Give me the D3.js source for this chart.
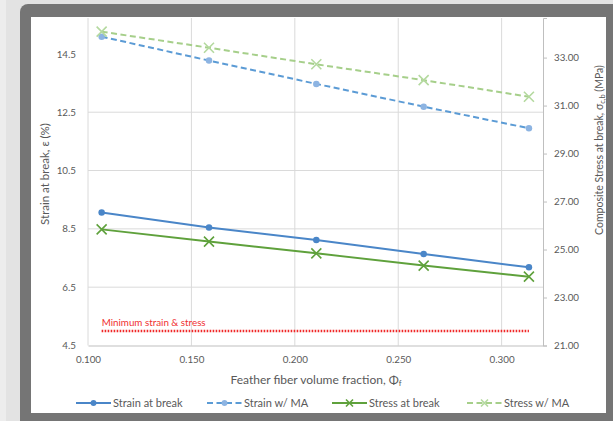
<!DOCTYPE html>
<html>
<head>
<meta charset="utf-8">
<script src="https://cdn.jsdelivr.net/npm/d3@7"></script>
<style>
  body { margin: 0; background: #e6e6e6; }
  text { font-family: Lato, "Open Sans", sans-serif; }
</style>
</head>
<body>
<div class="canvas"></div>
<script>
// values
const fiberFraction = [0.1066, 0.1585, 0.2104, 0.2623, 0.3132];
const strainBreak = [9.06, 8.55, 8.12, 7.64, 7.18];
const strainMA = [15.09, 14.27, 13.47, 12.69, 11.95];
const stressBreak = [25.84, 25.33, 24.84, 24.33, 23.87];
const stressMA = [34.08, 33.41, 32.72, 32.06, 31.37];
const minStrain = 5.0;

const xTicks = [0.1, 0.15, 0.2, 0.25, 0.3];
const leftTicks = [4.5, 6.5, 8.5, 10.5, 12.5, 14.5];
const rightTicks = [21, 23, 25, 27, 29, 31, 33];

const w = 613;
const h = 421;

const svg = d3.select(".canvas").append("svg").attr("width", w).attr("height", h)
  .style("display", "block");

// frame
svg.append("rect").attr("width", w).attr("height", h).attr("fill", "#e3e3e3");
svg.append("rect").attr("width", 6).attr("height", h).attr("fill", "#ededed");
svg.append("rect").attr("x", 20).attr("y", 4).attr("width", 640).attr("height", 460)
  .attr("rx", 8).attr("fill", "#757575");
svg.append("rect").attr("x", 31).attr("y", 17).attr("width", 575).attr("height", 396)
  .attr("fill", "#ffffff");

const x = d3.scaleLinear([0.1, 0.32], [88, 543]);
const yL = d3.scaleLinear([4.5, 15.73], [345.5, 18]);
const yR = d3.scaleLinear([21, 34.65], [345.5, 18]);

// gridlines
svg.append("g").selectAll("line").data(leftTicks.filter(d => d > 4.5 && d < 14)).join("line")
  .attr("x1", x(0.1)).attr("x2", x(0.32))
  .attr("y1", d => yL(d)).attr("y2", d => yL(d))
  .attr("stroke", "#dadada").attr("stroke-width", 1);
svg.append("g").selectAll("line").data(xTicks).join("line")
  .attr("x1", d => x(d)).attr("x2", d => x(d))
  .attr("y1", yL(4.5)).attr("y2", 18)
  .attr("stroke", "#dadada").attr("stroke-width", 1);

// bottom axis
const xAxis = svg.append("g").attr("transform", `translate(0, ${yL(4.5)})`)
  .call(d3.axisBottom(x).tickValues(xTicks).tickSize(0).tickPadding(11).tickFormat(d3.format(".3f")));
xAxis.select(".domain").attr("stroke", "#bfbfbf");

// left axis
const yAxisL = svg.append("g").attr("transform", `translate(${x(0.1)}, 0)`)
  .call(d3.axisLeft(yL).tickValues(leftTicks).tickSize(0).tickPadding(12).tickFormat(d3.format(".1f")));
yAxisL.select(".domain").remove();

// right axis
const yAxisR = svg.append("g").attr("transform", `translate(${x(0.32)}, 0)`)
  .call(d3.axisRight(yR).tickValues(rightTicks).tickSize(4).tickPadding(7).tickFormat(d3.format(".2f")));
yAxisR.select(".domain").attr("stroke", "#bfbfbf");
yAxisR.selectAll(".tick line").attr("stroke", "#bfbfbf");

svg.selectAll(".tick text").attr("fill", "#595959").style("font-size", "9.8px")
  .style("font-family", "Lato, sans-serif");

// minimum line
svg.append("line")
  .attr("x1", x(fiberFraction[0])).attr("x2", x(fiberFraction[4]))
  .attr("y1", yL(minStrain)).attr("y2", yL(minStrain))
  .attr("stroke", "#f02828").attr("stroke-width", 2.5).attr("stroke-dasharray", "1.6,1.4");
svg.append("text").attr("x", x(fiberFraction[0])).attr("y", yL(minStrain) - 5)
  .attr("fill", "#f03030").style("font-size", "9.8px").text("Minimum strain & stress");

const series = [
  { name: "Strain at break", vals: strainBreak, y: yL, color: "#4a86c8", mcolor: "#4a86c8", dash: null, mark: "circle" },
  { name: "Strain w/ MA", vals: strainMA, y: yL, color: "#5b9bd5", mcolor: "#8db4e2", dash: "6,3.5", mark: "circle" },
  { name: "Stress at break", vals: stressBreak, y: yR, color: "#5fa13c", mcolor: "#5fa13c", dash: null, mark: "x" },
  { name: "Stress w/ MA", vals: stressMA, y: yR, color: "#a6cf8a", mcolor: "#b4d99f", dash: "6,3.5", mark: "x" }
];

const drawMarker = (g, s, px, py, size) => {
  if (s.mark === "circle") {
    g.append("circle").attr("cx", px).attr("cy", py).attr("r", size * 0.65).attr("fill", s.mcolor);
  } else {
    g.append("path")
      .attr("d", `M${px - size},${py - size}L${px + size},${py + size}M${px - size},${py + size}L${px + size},${py - size}`)
      .attr("stroke", s.mcolor).attr("stroke-width", 1.6).attr("fill", "none");
  }
};

series.forEach(s => {
  const pts = fiberFraction.map((f, i) => [x(f), s.y(s.vals[i])]);
  svg.append("path").attr("d", d3.line()(pts)).attr("fill", "none")
    .attr("stroke", s.color).attr("stroke-width", 2)
    .attr("stroke-dasharray", s.dash);
  const g = svg.append("g");
  pts.forEach(p => drawMarker(g, s, p[0], p[1], 5));
});

// legend
const legendX = [76, 207, 332, 467];
series.forEach((s, i) => {
  const lx = legendX[i];
  const ly = 403;
  svg.append("line").attr("x1", lx).attr("x2", lx + 35).attr("y1", ly).attr("y2", ly)
    .attr("stroke", s.color).attr("stroke-width", 2).attr("stroke-dasharray", s.dash);
  const g = svg.append("g");
  drawMarker(g, s, lx + 17.5, ly, s.mark === "x" ? 3.5 : 4.5);
  svg.append("text").attr("x", lx + 37).attr("y", ly + 4)
    .attr("fill", "#595959").style("font-size", "11px").text(s.name);
});

// axis titles
svg.append("text").attr("x", 316).attr("y", 384).attr("text-anchor", "middle")
  .attr("fill", "#595959").style("font-size", "12px")
  .html('Feather fiber volume fraction, Φ<tspan baseline-shift="-25%" font-size="8px">f</tspan>');

svg.append("text").attr("transform", "translate(49, 174) rotate(-90)").attr("text-anchor", "middle")
  .attr("fill", "#595959").style("font-size", "11.5px").text("Strain at break, ε (%)");

svg.append("text").attr("transform", "translate(603, 150) rotate(-90)").attr("text-anchor", "middle")
  .attr("fill", "#595959").style("font-size", "10.5px")
  .html('Composite Stress at break, σ<tspan baseline-shift="-25%" font-size="7.5px">c,b</tspan> (MPa)');
</script>
</body>
</html>
